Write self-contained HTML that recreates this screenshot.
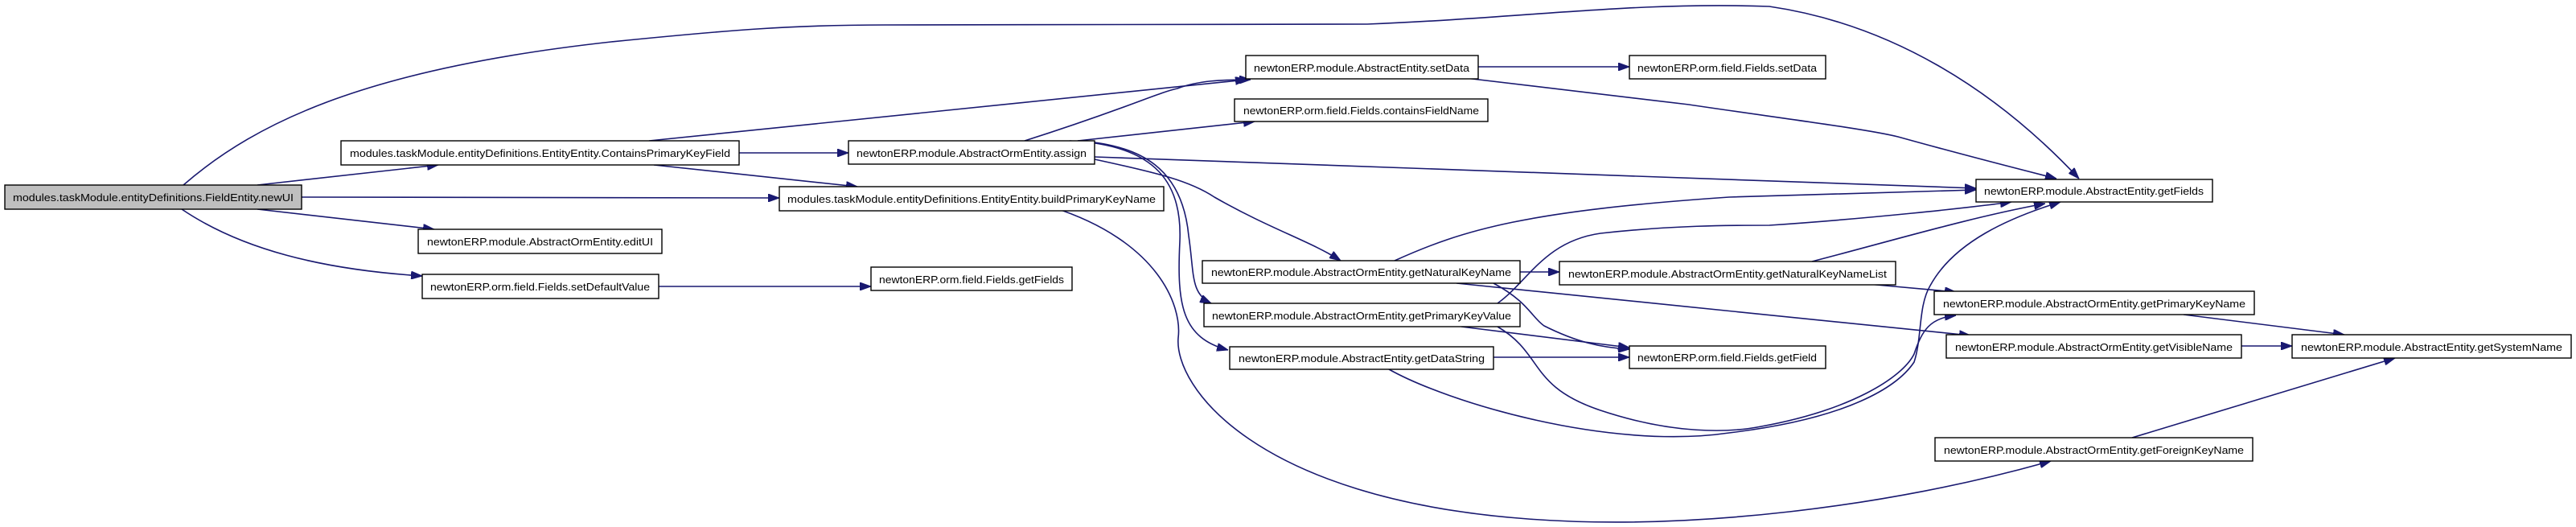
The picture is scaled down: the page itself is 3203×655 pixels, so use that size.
<!DOCTYPE html>
<html><head><meta charset="utf-8"><style>
html,body{margin:0;padding:0;background:#fff;}
svg{display:block;}
text{font-family:"Liberation Sans",sans-serif;font-size:13px;fill:#000;}
.e{fill:none;stroke:#191970;stroke-width:1.6;marker-end:url(#a);}
.n{fill:#fff;stroke:#000;stroke-width:1.4;}
</style></head><body>
<svg width="3203" height="655" viewBox="0 0 3203 655" xmlns="http://www.w3.org/2000/svg">
<defs><marker id="a" markerWidth="14" markerHeight="10" refX="14" refY="5" orient="auto" markerUnits="userSpaceOnUse"><path d="M0,0 L14,5 L0,10 Z" fill="#191970" stroke="#191970"/></marker></defs>

<path class="e" d="M228,230 C320,150 460,85 760,52 C900,38 980,31 1100,31 L1700,30 C1900,22 2030,2 2200,8 C2350,30 2480,110 2585,222"/>
<path class="e" d="M320,230 L545,205"/>
<path class="e" d="M375,245 L969,246"/>
<path class="e" d="M320,260 L540,285"/>
<path class="e" d="M226,260 C300,310 400,335 525,343"/>
<path class="e" d="M819,356 L1083,356"/>
<path class="e" d="M807,175 L1550,99"/>
<path class="e" d="M919,190 L1055,190"/>
<path class="e" d="M813,205 L1066,232"/>
<path class="e" d="M1274,175 C1400,135 1440,115 1464,110 C1490,100 1520,99 1555,99"/>
<path class="e" d="M1340,175 L1560,151"/>
<path class="e" d="M1361,195 L2457,234"/>
<path class="e" d="M1361,198 C1440,215 1480,225 1510,245 C1580,285 1630,300 1667,324"/>
<path class="e" d="M1340,175 C1420,180 1470,210 1478,293 C1485,340 1480,365 1506,377"/>
<path class="e" d="M1330,175 C1440,180 1470,230 1467,300 C1463,380 1470,420 1527,435"/>
<path class="e" d="M1310,258 C1440,300 1470,380 1465,420 C1460,480 1560,620 1900,645 C2100,660 2350,630 2550,573"/>
<path class="e" d="M1838,83 L2026,83"/>
<path class="e" d="M1822,97 L2100,130 C2200,145 2320,160 2360,170 C2450,195 2510,210 2557,222"/>
<path class="e" d="M1734,324 C1820,285 1900,262 2150,245 L2457,236"/>
<path class="e" d="M1890,338 L1939,338"/>
<path class="e" d="M1811,352 L2450,417"/>
<path class="e" d="M1857,352 C1900,375 1905,395 1920,405 C1960,425 1990,432 2026,434"/>
<path class="e" d="M1862,377 C1900,350 1920,300 1990,290 C2080,280 2150,280 2200,280 C2320,272 2450,258 2501,251"/>
<path class="e" d="M1817,406 L2026,432"/>
<path class="e" d="M1862,406 C1920,440 1900,480 1990,510 C2080,540 2150,538 2190,530 C2300,510 2365,470 2380,440 C2390,410 2400,395 2432,392"/>
<path class="e" d="M1857,444 L2026,444"/>
<path class="e" d="M1727,459 C1800,500 2000,560 2150,538 C2300,520 2360,480 2380,450 C2390,420 2385,380 2400,355 C2430,300 2500,270 2562,251"/>
<path class="e" d="M2253,325 C2350,300 2450,270 2543,253"/>
<path class="e" d="M2322,353 L2432,363"/>
<path class="e" d="M2715,391 L2915,416"/>
<path class="e" d="M2787,430 L2850,430"/>
<path class="e" d="M2651,544 L2978,445"/>

<rect x="6" y="230" width="369" height="30" fill="#bfbfbf" stroke="#000" stroke-width="1.4"/>
<text x="16" y="250" textLength="349" lengthAdjust="spacingAndGlyphs">modules.taskModule.entityDefinitions.FieldEntity.newUI</text>

<rect class="n" x="424" y="175" width="495" height="30"/>
<text x="435" y="195" textLength="473" lengthAdjust="spacingAndGlyphs">modules.taskModule.entityDefinitions.EntityEntity.ContainsPrimaryKeyField</text>

<rect class="n" x="520" y="285" width="303" height="30"/>
<text x="531" y="305" textLength="281" lengthAdjust="spacingAndGlyphs">newtonERP.module.AbstractOrmEntity.editUI</text>

<rect class="n" x="525" y="341" width="294" height="30"/>
<text x="535" y="361" textLength="273" lengthAdjust="spacingAndGlyphs">newtonERP.orm.field.Fields.setDefaultValue</text>

<rect class="n" x="969" y="232" width="478" height="30"/>
<text x="979" y="252" textLength="458" lengthAdjust="spacingAndGlyphs">modules.taskModule.entityDefinitions.EntityEntity.buildPrimaryKeyName</text>

<rect class="n" x="1055" y="175" width="306" height="29"/>
<text x="1065" y="195" textLength="286" lengthAdjust="spacingAndGlyphs">newtonERP.module.AbstractOrmEntity.assign</text>

<rect class="n" x="1083" y="332" width="250" height="29"/>
<text x="1093" y="352" textLength="230" lengthAdjust="spacingAndGlyphs">newtonERP.orm.field.Fields.getFields</text>

<rect class="n" x="1549" y="69" width="289" height="29"/>
<text x="1559" y="89" textLength="268" lengthAdjust="spacingAndGlyphs">newtonERP.module.AbstractEntity.setData</text>

<rect class="n" x="1535" y="123" width="315" height="28"/>
<text x="1546" y="142" textLength="293" lengthAdjust="spacingAndGlyphs">newtonERP.orm.field.Fields.containsFieldName</text>

<rect class="n" x="1495" y="324" width="395" height="28"/>
<text x="1506" y="343" textLength="373" lengthAdjust="spacingAndGlyphs">newtonERP.module.AbstractOrmEntity.getNaturalKeyName</text>

<rect class="n" x="1497" y="377" width="393" height="29"/>
<text x="1507" y="397" textLength="372" lengthAdjust="spacingAndGlyphs">newtonERP.module.AbstractOrmEntity.getPrimaryKeyValue</text>

<rect class="n" x="1529" y="431" width="328" height="28"/>
<text x="1540" y="450" textLength="306" lengthAdjust="spacingAndGlyphs">newtonERP.module.AbstractEntity.getDataString</text>

<rect class="n" x="1939" y="325" width="418" height="29"/>
<text x="1950" y="345" textLength="396" lengthAdjust="spacingAndGlyphs">newtonERP.module.AbstractOrmEntity.getNaturalKeyNameList</text>

<rect class="n" x="2026" y="69" width="244" height="29"/>
<text x="2036" y="89" textLength="223" lengthAdjust="spacingAndGlyphs">newtonERP.orm.field.Fields.setData</text>

<rect class="n" x="2026" y="430" width="244" height="28"/>
<text x="2036" y="449" textLength="223" lengthAdjust="spacingAndGlyphs">newtonERP.orm.field.Fields.getField</text>

<rect class="n" x="2457" y="223" width="294" height="28"/>
<text x="2467" y="242" textLength="273" lengthAdjust="spacingAndGlyphs">newtonERP.module.AbstractEntity.getFields</text>

<rect class="n" x="2405" y="362" width="398" height="29"/>
<text x="2416" y="382" textLength="376" lengthAdjust="spacingAndGlyphs">newtonERP.module.AbstractOrmEntity.getPrimaryKeyName</text>

<rect class="n" x="2420" y="416" width="367" height="29"/>
<text x="2431" y="436" textLength="345" lengthAdjust="spacingAndGlyphs">newtonERP.module.AbstractOrmEntity.getVisibleName</text>

<rect class="n" x="2850" y="416" width="347" height="29"/>
<text x="2861" y="436" textLength="325" lengthAdjust="spacingAndGlyphs">newtonERP.module.AbstractEntity.getSystemName</text>

<rect class="n" x="2406" y="544" width="395" height="29"/>
<text x="2417" y="564" textLength="373" lengthAdjust="spacingAndGlyphs">newtonERP.module.AbstractOrmEntity.getForeignKeyName</text>
</svg>
</body></html>
